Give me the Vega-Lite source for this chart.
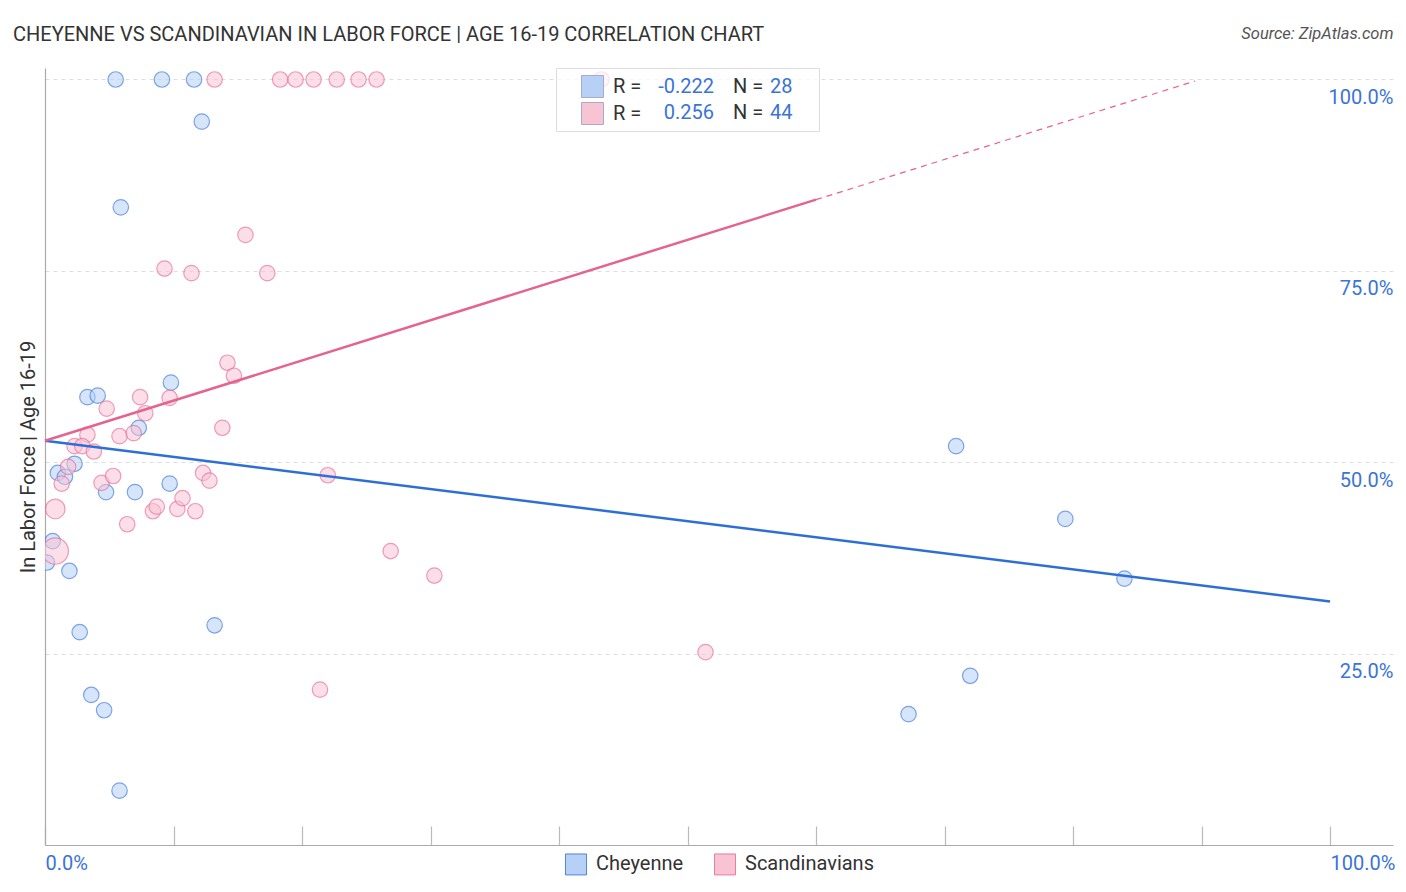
{
  "$schema": "https://vega.github.io/schema/vega-lite/v6.json",
  "width": 1348,
  "height": 777,
  "autosize": {"type": "none"},
  "padding": {"left": 45, "top": 68, "right": 13, "bottom": 47},
  "background": "white",
  "config": {"font": "Roboto", "view": {"stroke": null}},
  "title": {
    "text": "CHEYENNE VS SCANDINAVIAN IN LABOR FORCE | AGE 16-19 CORRELATION CHART",
    "anchor": "start",
    "frame": "group",
    "dx": -32,
    "dy": 24,
    "fontSize": 20,
    "fontWeight": "normal",
    "color": "#333333"
  },
  "datasets": {
    "points": [
      {"group": "Cheyenne", "x": 5.5, "y": 100, "w": 1},
      {"group": "Cheyenne", "x": 9.1, "y": 100, "w": 1},
      {"group": "Cheyenne", "x": 11.6, "y": 100, "w": 1},
      {"group": "Cheyenne", "x": 12.2, "y": 94.5, "w": 1},
      {"group": "Cheyenne", "x": 5.9, "y": 83.3, "w": 1},
      {"group": "Cheyenne", "x": 9.8, "y": 60.4, "w": 1},
      {"group": "Cheyenne", "x": 3.3, "y": 58.5, "w": 1},
      {"group": "Cheyenne", "x": 4.1, "y": 58.7, "w": 1},
      {"group": "Cheyenne", "x": 7.3, "y": 54.5, "w": 1},
      {"group": "Cheyenne", "x": 2.3, "y": 49.8, "w": 1},
      {"group": "Cheyenne", "x": 1.0, "y": 48.6, "w": 1},
      {"group": "Cheyenne", "x": 1.55, "y": 48.1, "w": 1},
      {"group": "Cheyenne", "x": 4.75, "y": 46.1, "w": 1},
      {"group": "Cheyenne", "x": 7.0, "y": 46.1, "w": 1},
      {"group": "Cheyenne", "x": 9.7, "y": 47.2, "w": 1},
      {"group": "Cheyenne", "x": 0.6, "y": 39.7, "w": 1},
      {"group": "Cheyenne", "x": 0.15, "y": 36.9, "w": 1},
      {"group": "Cheyenne", "x": 1.9, "y": 35.8, "w": 1},
      {"group": "Cheyenne", "x": 2.7, "y": 27.8, "w": 1},
      {"group": "Cheyenne", "x": 13.2, "y": 28.7, "w": 1},
      {"group": "Cheyenne", "x": 3.6, "y": 19.6, "w": 1},
      {"group": "Cheyenne", "x": 4.6, "y": 17.6, "w": 1},
      {"group": "Cheyenne", "x": 5.8, "y": 7.1, "w": 1},
      {"group": "Cheyenne", "x": 70.9, "y": 52.1, "w": 1},
      {"group": "Cheyenne", "x": 79.4, "y": 42.6, "w": 1},
      {"group": "Cheyenne", "x": 84.0, "y": 34.8, "w": 1},
      {"group": "Cheyenne", "x": 72.0, "y": 22.1, "w": 1},
      {"group": "Cheyenne", "x": 67.2, "y": 17.1, "w": 1},
      {"group": "Scandinavians", "x": 13.2, "y": 100, "w": 1},
      {"group": "Scandinavians", "x": 18.3, "y": 100, "w": 1},
      {"group": "Scandinavians", "x": 19.5, "y": 100, "w": 1},
      {"group": "Scandinavians", "x": 20.9, "y": 100, "w": 1},
      {"group": "Scandinavians", "x": 22.7, "y": 100, "w": 1},
      {"group": "Scandinavians", "x": 24.4, "y": 100, "w": 1},
      {"group": "Scandinavians", "x": 25.8, "y": 100, "w": 1},
      {"group": "Scandinavians", "x": 43.3, "y": 100, "w": 1},
      {"group": "Scandinavians", "x": 15.6, "y": 79.7, "w": 1},
      {"group": "Scandinavians", "x": 9.3, "y": 75.3, "w": 1},
      {"group": "Scandinavians", "x": 11.4, "y": 74.7, "w": 1},
      {"group": "Scandinavians", "x": 17.3, "y": 74.7, "w": 1},
      {"group": "Scandinavians", "x": 14.2, "y": 63.0, "w": 1},
      {"group": "Scandinavians", "x": 14.7, "y": 61.3, "w": 1},
      {"group": "Scandinavians", "x": 7.4, "y": 58.5, "w": 1},
      {"group": "Scandinavians", "x": 9.7, "y": 58.4, "w": 1},
      {"group": "Scandinavians", "x": 4.8, "y": 57.0, "w": 1},
      {"group": "Scandinavians", "x": 7.8, "y": 56.4, "w": 1},
      {"group": "Scandinavians", "x": 13.8, "y": 54.5, "w": 1},
      {"group": "Scandinavians", "x": 3.3, "y": 53.6, "w": 1},
      {"group": "Scandinavians", "x": 5.8, "y": 53.4, "w": 1},
      {"group": "Scandinavians", "x": 6.9, "y": 53.8, "w": 1},
      {"group": "Scandinavians", "x": 2.3, "y": 52.1, "w": 1},
      {"group": "Scandinavians", "x": 2.9, "y": 52.1, "w": 1},
      {"group": "Scandinavians", "x": 3.8, "y": 51.4, "w": 1},
      {"group": "Scandinavians", "x": 1.8, "y": 49.4, "w": 1},
      {"group": "Scandinavians", "x": 1.3, "y": 47.2, "w": 1},
      {"group": "Scandinavians", "x": 4.4, "y": 47.3, "w": 1},
      {"group": "Scandinavians", "x": 5.3, "y": 48.2, "w": 1},
      {"group": "Scandinavians", "x": 12.3, "y": 48.6, "w": 1},
      {"group": "Scandinavians", "x": 12.8, "y": 47.6, "w": 1},
      {"group": "Scandinavians", "x": 22.0, "y": 48.3, "w": 1},
      {"group": "Scandinavians", "x": 0.8, "y": 43.9, "w": 1.6},
      {"group": "Scandinavians", "x": 6.4, "y": 41.9, "w": 1},
      {"group": "Scandinavians", "x": 8.4, "y": 43.6, "w": 1},
      {"group": "Scandinavians", "x": 8.7, "y": 44.2, "w": 1},
      {"group": "Scandinavians", "x": 10.3, "y": 43.9, "w": 1},
      {"group": "Scandinavians", "x": 10.7, "y": 45.3, "w": 1},
      {"group": "Scandinavians", "x": 11.7, "y": 43.6, "w": 1},
      {"group": "Scandinavians", "x": 0.8, "y": 38.4, "w": 2.9},
      {"group": "Scandinavians", "x": 26.9, "y": 38.4, "w": 1},
      {"group": "Scandinavians", "x": 30.3, "y": 35.2, "w": 1},
      {"group": "Scandinavians", "x": 51.4, "y": 25.2, "w": 1},
      {"group": "Scandinavians", "x": 21.4, "y": 20.3, "w": 1}
    ],
    "lines": [
      {"group": "Cheyenne", "seg": "solid", "x": 0, "y": 52.8},
      {"group": "Cheyenne", "seg": "solid", "x": 100, "y": 31.8},
      {"group": "Scandinavians", "seg": "solid", "x": 0, "y": 52.8},
      {"group": "Scandinavians", "seg": "solid", "x": 60, "y": 84.3},
      {"group": "Scandinavians", "seg": "dash", "x": 60, "y": 84.3},
      {"group": "Scandinavians", "seg": "dash", "x": 89.5, "y": 99.8}
    ],
    "stats": [
      {"group": "Cheyenne", "r": "-0.222", "n": "28", "row": 1},
      {"group": "Scandinavians", "r": "0.256", "n": "44", "row": 2}
    ]
  },
  "layer": [
    {
      "data": {"name": "points"},
      "mark": {"type": "point", "filled": true, "shape": "circle", "clip": true, "fillOpacity": 0.55, "strokeOpacity": 0.6, "strokeWidth": 1.2},
      "encoding": {
        "x": {
          "field": "x", "type": "quantitative",
          "scale": {"domain": [0, 104.9], "nice": false, "zero": false},
          "axis": {
            "orient": "bottom", "values": [0, 10, 20, 30, 40, 50, 60, 70, 80, 90, 100],
            "grid": false, "title": null,
            "domainColor": "#aaaaaa", "domainWidth": 1.2,
            "tickColor": "#bbbbbb", "tickSize": -19, "tickWidth": 1.2,
            "labelExpr": "datum.value == 0 || datum.value == 100 ? format(datum.value, '.1f') + '%' : ''",
            "labelAlign": "left", "labelColor": "#3b73d9", "labelFontSize": 20,
            "labelPadding": 27, "labelBaseline": "top", "labelFlush": false
          }
        },
        "y": {
          "field": "y", "type": "quantitative",
          "scale": {"domain": [0, 101.5], "nice": false, "zero": false},
          "axis": {
            "orient": "left", "grid": false, "ticks": false, "labels": false,
            "domainColor": "#aaaaaa", "domainWidth": 1.2,
            "title": "In Labor Force | Age 16-19", "titleFontSize": 20,
            "titleFontWeight": "normal", "titleColor": "#333333", "titlePadding": 7
          }
        },
        "color": {
          "field": "group", "type": "nominal",
          "scale": {"domain": ["Cheyenne", "Scandinavians"], "range": ["#b6d0f6", "#f8c3d3"]},
          "legend": {
            "orient": "none", "legendX": 520, "legendY": 785, "direction": "horizontal",
            "title": null, "symbolType": "square", "symbolSize": 441, "symbolStrokeWidth": 0.8,
            "symbolOpacity": 1, "labelFontSize": 20, "labelColor": "#333333", "labelOffset": 9,
            "columnPadding": 28, "padding": 0
          }
        },
        "stroke": {
          "field": "group", "type": "nominal",
          "scale": {"domain": ["Cheyenne", "Scandinavians"], "range": ["#2e6fd6", "#e5638f"]},
          "legend": {"orient": "none", "legendX": 520, "legendY": 785, "title": null}
        },
        "size": {"field": "w", "type": "quantitative", "scale": {"type": "linear", "domain": [0, 1], "range": [0, 240]}, "legend": null}
      }
    },
    {
      "data": {"name": "lines"},
      "transform": [{"filter": "datum.seg == 'solid'"}],
      "mark": {"type": "line", "strokeWidth": 2.5},
      "encoding": {
        "x": {
          "field": "x", "type": "quantitative",
          "scale": {"domain": [0, 104.9], "nice": false, "zero": false},
          "axis": {
            "orient": "top", "domain": false, "ticks": false, "labels": false, "grid": false,
            "title": "Source: ZipAtlas.com", "titleX": 1348, "titleY": -35,
            "titleAlign": "right", "titleBaseline": "middle",
            "titleFontStyle": "italic", "titleFontWeight": "normal", "titleFontSize": 16.5,
            "titleColor": "#555555"
          }
        },
        "y": {
          "field": "y", "type": "quantitative",
          "scale": {"domain": [0, 101.5], "nice": false, "zero": false},
          "axis": {
            "orient": "right", "values": [25, 50, 75, 100], "title": null,
            "domain": false, "ticks": false,
            "grid": true, "gridColor": "#dddddd", "gridDash": [4, 4], "gridWidth": 1,
            "labelExpr": "format(datum.value, '.1f') + '%'",
            "labelAlign": "right", "labelBaseline": "middle", "labelPadding": 0,
            "labelOffset": 18, "labelColor": "#3b73d9", "labelFontSize": 20
          }
        },
        "stroke": {"field": "group", "type": "nominal", "legend": null},
        "detail": {"field": "group"}
      }
    },
    {
      "data": {"name": "lines"},
      "transform": [{"filter": "datum.seg == 'dash'"}],
      "mark": {"type": "line", "strokeWidth": 1.2, "strokeDash": [6, 5]},
      "encoding": {
        "x": {"field": "x", "type": "quantitative", "scale": {"domain": [0, 104.9], "nice": false, "zero": false}, "axis": null},
        "y": {"field": "y", "type": "quantitative", "scale": {"domain": [0, 101.5], "nice": false, "zero": false}, "axis": null},
        "stroke": {"field": "group", "type": "nominal", "legend": null}
      }
    },
    {
      "data": {"name": "stats"},
      "mark": {"type": "point", "filled": true, "opacity": 0},
      "encoding": {
        "fill": {
          "field": "group", "type": "nominal",
          "scale": {"range": ["#b6d0f6", "#f8c3d3"]},
          "legend": {
            "orient": "none", "legendX": 511, "legendY": 0, "direction": "vertical", "title": null,
            "zindex": 2,
            "symbolType": "square", "symbolSize": 484, "symbolStrokeWidth": 1, "symbolOpacity": 1,
            "symbolStrokeColor": "#a9a9d0",
            "symbolOffset": 18, "labelOffset": 9, "labelFontSize": 20, "labelColor": "#333333",
            "rowPadding": 0, "padding": 7,
            "labelExpr": "'R ='"
          }
        },
        "shape": {
          "field": "r", "type": "nominal",
          "legend": {
            "orient": "none", "legendX": 639, "legendY": 0, "title": null,
            "zindex": 2,
            "symbolType": "square", "symbolSize": 484, "symbolStrokeWidth": 1, "symbolOpacity": 0,
            "labelOffset": 0, "labelFontSize": 20, "labelColor": "#3b73d9", "labelAlign": "right",
            "rowPadding": 3, "padding": 7
          }
        },
        "strokeDash": {
          "field": "row", "type": "nominal",
          "legend": {
            "orient": "none", "legendX": 658, "legendY": 0, "title": null,
            "zindex": 2,
            "symbolType": "square", "symbolSize": 484, "symbolStrokeWidth": 1, "symbolOpacity": 0,
            "labelOffset": 0, "labelFontSize": 20, "labelColor": "#333333",
            "rowPadding": 3, "padding": 7,
            "labelExpr": "'N ='"
          }
        },
        "strokeWidth": {
          "field": "n", "type": "ordinal",
          "scale": {"range": [1, 1]},
          "legend": {
            "orient": "none", "legendX": 511, "legendY": 0,
            "zindex": 1,
            "title": "N", "titleOrient": "right", "titleColor": "rgba(0,0,0,0)", "titleFontSize": 20, "titlePadding": 5,
            "symbolType": "square", "symbolSize": 484, "symbolStrokeWidth": 1, "symbolOpacity": 0,
            "labelOffset": 184, "labelFontSize": 20, "labelColor": "#3b73d9",
            "rowPadding": 3, "padding": 7,
            "strokeColor": "#dddddd", "fillColor": "rgba(255,255,255,0.72)"
          }
        }
      }
    }
  ],
  "resolve": {"axis": {"x": "independent", "y": "independent"}}
}
